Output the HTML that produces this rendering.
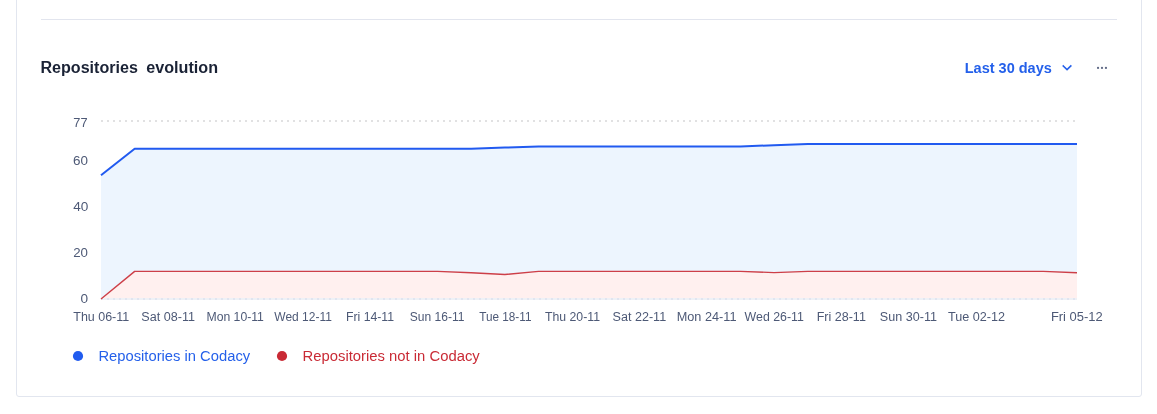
<!DOCTYPE html>
<html><head><meta charset="utf-8">
<style>
html,body{margin:0;padding:0;background:#fff;}
body{width:1157px;height:414px;overflow:hidden;position:relative;font-family:"Liberation Sans",sans-serif;}
.card{position:absolute;left:16px;top:-20px;width:1124px;height:415px;border:1px solid #e2e6ef;border-radius:3px;}
.hr{position:absolute;left:41px;top:19px;width:1076px;height:1px;background:#e2e5ee;}
svg{position:absolute;left:0;top:0;}
text{font-family:"Liberation Sans",sans-serif;white-space:pre;}
</style></head><body>
<div class="card"></div>
<div class="hr"></div>
<svg width="1157" height="414" viewBox="0 0 1157 414">
<path d="M1063.3 66.0 L1067.05 69.6 L1070.8 66.0" fill="none" stroke="#2460ea" stroke-width="1.6" stroke-linecap="square" stroke-linejoin="miter"/>
<circle cx="1098.05" cy="67.95" r="1.12" fill="#5f6985"/><circle cx="1102" cy="67.95" r="1.12" fill="#5f6985"/><circle cx="1105.95" cy="67.95" r="1.12" fill="#5f6985"/>
<line x1="101" y1="121" x2="1078" y2="121" stroke="#e1e1e2" stroke-width="2" stroke-dasharray="2 4"/>
<path d="M101.00 175.21 L134.66 148.74 L168.31 148.74 L201.97 148.74 L235.62 148.74 L269.28 148.74 L302.93 148.74 L336.59 148.74 L370.24 148.74 L403.90 148.74 L437.55 148.74 L471.21 148.74 L504.86 147.58 L538.52 146.43 L572.17 146.43 L605.83 146.43 L639.48 146.43 L673.14 146.43 L706.79 146.43 L740.45 146.43 L774.10 145.27 L807.76 144.12 L841.41 144.12 L875.07 144.12 L908.72 144.12 L942.38 144.12 L976.03 144.12 L1009.69 144.12 L1043.34 144.12 L1077.00 144.12 L1077 299 L101 299 Z" fill="#edf5fe"/>
<path d="M101.00 299.00 L134.66 271.40 L168.31 271.40 L201.97 271.40 L235.62 271.40 L269.28 271.40 L302.93 271.40 L336.59 271.40 L370.24 271.40 L403.90 271.40 L437.55 271.40 L471.21 272.70 L504.86 274.50 L538.52 271.40 L572.17 271.40 L605.83 271.40 L639.48 271.40 L673.14 271.40 L706.79 271.40 L740.45 271.40 L774.10 272.60 L807.76 271.40 L841.41 271.40 L875.07 271.40 L908.72 271.40 L942.38 271.40 L976.03 271.40 L1009.69 271.40 L1043.34 271.40 L1077.00 272.70 L1077 298 L101 298 Z" fill="#fff0ef"/>
<rect x="101" y="298" width="976" height="2" fill="#eef1f6"/>
<line x1="101" y1="299" x2="1078" y2="299" stroke="#e1e5f0" stroke-width="2" stroke-dasharray="2 4"/>
<path d="M101.00 175.21 L134.66 148.74 L168.31 148.74 L201.97 148.74 L235.62 148.74 L269.28 148.74 L302.93 148.74 L336.59 148.74 L370.24 148.74 L403.90 148.74 L437.55 148.74 L471.21 148.74 L504.86 147.58 L538.52 146.43 L572.17 146.43 L605.83 146.43 L639.48 146.43 L673.14 146.43 L706.79 146.43 L740.45 146.43 L774.10 145.27 L807.76 144.12 L841.41 144.12 L875.07 144.12 L908.72 144.12 L942.38 144.12 L976.03 144.12 L1009.69 144.12 L1043.34 144.12 L1077.00 144.12" fill="none" stroke="#215af0" stroke-width="2" stroke-linejoin="round"/>
<path d="M101.00 299.00 L134.66 271.40 L168.31 271.40 L201.97 271.40 L235.62 271.40 L269.28 271.40 L302.93 271.40 L336.59 271.40 L370.24 271.40 L403.90 271.40 L437.55 271.40 L471.21 272.70 L504.86 274.50 L538.52 271.40 L572.17 271.40 L605.83 271.40 L639.48 271.40 L673.14 271.40 L706.79 271.40 L740.45 271.40 L774.10 272.60 L807.76 271.40 L841.41 271.40 L875.07 271.40 L908.72 271.40 L942.38 271.40 L976.03 271.40 L1009.69 271.40 L1043.34 271.40 L1077.00 272.70" fill="none" stroke="#cd3f48" stroke-width="1.4" stroke-linejoin="round"/>
<circle cx="78" cy="356" r="5.1" fill="#215cef"/>
<circle cx="282" cy="356" r="5.1" fill="#c92a35"/>
<text id="t1" y="72.50" font-size="16" font-weight="700" fill="#1a2235"><tspan x="40.49" textLength="97.38" lengthAdjust="spacingAndGlyphs">Repositories</tspan> <tspan id="t2" x="146.24" textLength="71.78" lengthAdjust="spacingAndGlyphs">evolution</tspan></text>
<text id="r1" x="964.76" y="72.80" font-size="14" font-weight="700" fill="#2460ea" textLength="87.03" lengthAdjust="spacingAndGlyphs">Last 30 days</text>
<text id="y77" x="73.29" y="127.00" font-size="12" font-weight="400" fill="#4d5976" textLength="14.23" lengthAdjust="spacingAndGlyphs">77</text>
<text id="y60" x="72.94" y="165.00" font-size="12" font-weight="400" fill="#4d5976" textLength="14.95" lengthAdjust="spacingAndGlyphs">60</text>
<text id="y40" x="73.22" y="211.00" font-size="12" font-weight="400" fill="#4d5976" textLength="15.13" lengthAdjust="spacingAndGlyphs">40</text>
<text id="y20" x="73.24" y="256.60" font-size="12" font-weight="400" fill="#4d5976" textLength="14.76" lengthAdjust="spacingAndGlyphs">20</text>
<text id="y0" x="80.57" y="302.80" font-size="12" font-weight="400" fill="#4d5976" textLength="7.58" lengthAdjust="spacingAndGlyphs">0</text>
<text id="l1" x="98.41" y="360.50" font-size="14" font-weight="400" fill="#2460ea" textLength="151.76" lengthAdjust="spacingAndGlyphs">Repositories in Codacy</text>
<text id="l2" x="302.61" y="360.50" font-size="14" font-weight="400" fill="#c92a35" textLength="177.10" lengthAdjust="spacingAndGlyphs">Repositories not in Codacy</text>
<text id="x0" x="73.25" y="321.00" font-size="12" font-weight="400" fill="#4d5976" textLength="55.98" lengthAdjust="spacingAndGlyphs">Thu 06-11</text>
<text id="x1" x="141.36" y="321.00" font-size="12" font-weight="400" fill="#4d5976" textLength="53.61" lengthAdjust="spacingAndGlyphs">Sat 08-11</text>
<text id="x2" x="206.48" y="321.00" font-size="12" font-weight="400" fill="#4d5976" textLength="57.45" lengthAdjust="spacingAndGlyphs">Mon 10-11</text>
<text id="x3" x="274.36" y="321.00" font-size="12" font-weight="400" fill="#4d5976" textLength="57.47" lengthAdjust="spacingAndGlyphs">Wed 12-11</text>
<text id="x4" x="345.95" y="321.00" font-size="12" font-weight="400" fill="#4d5976" textLength="48.14" lengthAdjust="spacingAndGlyphs">Fri 14-11</text>
<text id="x5" x="409.80" y="321.00" font-size="12" font-weight="400" fill="#4d5976" textLength="54.71" lengthAdjust="spacingAndGlyphs">Sun 16-11</text>
<text id="x6" x="479.17" y="321.00" font-size="12" font-weight="400" fill="#4d5976" textLength="52.30" lengthAdjust="spacingAndGlyphs">Tue 18-11</text>
<text id="x7" x="544.97" y="321.00" font-size="12" font-weight="400" fill="#4d5976" textLength="54.98" lengthAdjust="spacingAndGlyphs">Thu 20-11</text>
<text id="x8" x="612.57" y="321.00" font-size="12" font-weight="400" fill="#4d5976" textLength="53.61" lengthAdjust="spacingAndGlyphs">Sat 22-11</text>
<text id="x9" x="676.71" y="321.00" font-size="12" font-weight="400" fill="#4d5976" textLength="59.80" lengthAdjust="spacingAndGlyphs">Mon 24-11</text>
<text id="x10" x="744.63" y="321.00" font-size="12" font-weight="400" fill="#4d5976" textLength="59.28" lengthAdjust="spacingAndGlyphs">Wed 26-11</text>
<text id="x11" x="816.66" y="321.00" font-size="12" font-weight="400" fill="#4d5976" textLength="49.21" lengthAdjust="spacingAndGlyphs">Fri 28-11</text>
<text id="x12" x="879.87" y="321.00" font-size="12" font-weight="400" fill="#4d5976" textLength="57.14" lengthAdjust="spacingAndGlyphs">Sun 30-11</text>
<text id="x13" x="948.04" y="321.00" font-size="12" font-weight="400" fill="#4d5976" textLength="57.05" lengthAdjust="spacingAndGlyphs">Tue 02-12</text>
<text id="x14" x="1050.92" y="321.00" font-size="12" font-weight="400" fill="#4d5976" textLength="51.81" lengthAdjust="spacingAndGlyphs">Fri 05-12</text>
</svg>
</body></html>
